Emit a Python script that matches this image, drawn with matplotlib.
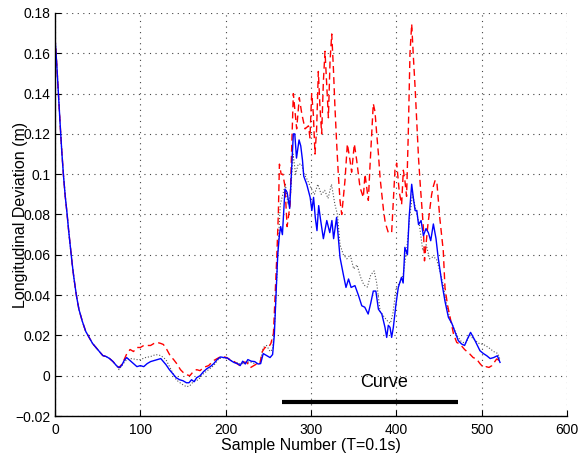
import numpy as np
import matplotlib
matplotlib.use('Agg')
import matplotlib.pyplot as plt

plt.rcParams['font.family'] = ['Liberation Sans', 'DejaVu Sans']

# shared start of all three runs (the initial decay)
decay_x = [0, 2, 4, 6, 8, 10, 12, 14, 16, 18, 20, 22, 25, 28, 32, 36, 40, 44, 48, 52, 56, 60, 64, 68, 72]
decay_y = [0.168, 0.155, 0.140, 0.125, 0.111, 0.099, 0.089, 0.081, 0.072, 0.064, 0.056, 0.049, 0.040,
           0.033, 0.027, 0.022, 0.019, 0.016, 0.014, 0.012, 0.010, 0.0095, 0.0085, 0.007, 0.005]

# blue solid
blue_x = decay_x + [75, 78, 81, 84, 88, 92, 96, 100, 104, 108, 112, 116, 120, 124, 127, 130, 134, 138, 142,
                    146, 150, 154, 157, 160, 163, 166, 170, 174, 178, 182, 186, 190, 194, 198, 202, 206, 210,
                    214, 217, 220, 223, 226, 230, 234, 238, 241, 244, 248, 252, 255, 257, 259, 261, 263, 264.5,
                    266.5, 269.5, 272, 275, 277, 279.3, 281, 283, 286, 288, 290, 291.5, 295, 299, 301, 303, 305,
                    307, 309, 311, 314.5, 318.5, 322, 324.5, 326.5, 330, 334, 338, 341, 344, 347, 351.5, 355.5,
                    359.5, 363, 367, 370, 373, 376, 379, 383, 386.7, 388.7, 390.6, 392.6, 394.5, 396.5, 399.6,
                    402.3, 406, 408, 410, 413, 415, 418, 420, 422, 424, 426, 429, 431.7, 434.8, 437.5, 440.3,
                    443.4, 446.5, 449, 453, 457, 461, 465, 469, 472.6, 476.6, 480, 483, 487, 492, 498, 502, 506,
                    510, 514, 518.4, 521.5]
blue_y = decay_y + [0.004, 0.005, 0.0075, 0.009, 0.0075, 0.006, 0.0045, 0.005, 0.0045, 0.006, 0.007, 0.0075,
                    0.008, 0.0085, 0.007, 0.0055, 0.003, 0.001, -0.001, -0.002, -0.0025, -0.0035, -0.0035, -0.002,
                    -0.003, -0.001, 0.0, 0.002, 0.0035, 0.0045, 0.006, 0.008, 0.0093, 0.009, 0.0088, 0.0075,
                    0.0065, 0.006, 0.005, 0.0072, 0.0058, 0.008, 0.0072, 0.007, 0.0058, 0.006, 0.011, 0.010,
                    0.009, 0.0105, 0.020, 0.040, 0.060, 0.070, 0.074, 0.070, 0.0926, 0.091, 0.083, 0.100, 0.120,
                    0.120, 0.108, 0.117, 0.114, 0.107, 0.099, 0.095, 0.0885, 0.082, 0.0885, 0.0786, 0.072,
                    0.0844, 0.078, 0.068, 0.077, 0.071, 0.077, 0.068, 0.0786, 0.0587, 0.050, 0.0438, 0.048,
                    0.0438, 0.0447, 0.040, 0.0347, 0.034, 0.0306, 0.036, 0.042, 0.042, 0.033, 0.0306, 0.024,
                    0.019, 0.025, 0.024, 0.019, 0.024, 0.0356, 0.0438, 0.0488, 0.046, 0.0637, 0.060, 0.0786,
                    0.095, 0.088, 0.082, 0.082, 0.075, 0.077, 0.0695, 0.073, 0.071, 0.067, 0.0753, 0.068, 0.0587,
                    0.047, 0.037, 0.029, 0.026, 0.0215, 0.0174, 0.0157, 0.015, 0.018, 0.0215, 0.0176, 0.0124,
                    0.011, 0.0099, 0.0085, 0.009, 0.0099, 0.0066]

# red dashed
red_x = decay_x + [75, 79, 84, 88, 92, 96, 100, 104, 108, 112, 116, 120, 124, 127, 131, 135, 139, 143, 147, 150,
                   154, 158, 162, 166, 170, 174, 180, 185.5, 190, 193.4, 197, 201, 205, 209, 213, 217, 221, 225,
                   229, 233, 237, 240, 243, 246, 250, 253, 256, 258, 260, 261.7, 263, 265, 267, 269.5, 272,
                   275.5, 277.5, 279.3, 281.3, 283.2, 286.3, 289.2, 293, 297, 298.8, 300.8, 302.7, 304.7, 306.6,
                   308.6, 310.5, 312.5, 314.5, 316.4, 318.4, 320.4, 322.3, 324.3, 326.2, 328.1, 330, 332, 334,
                   336, 339.8, 342.6, 345.7, 347.6, 350.8, 353.5, 357.4, 361.3, 363.3, 367.2, 369, 373, 375, 377,
                   379, 381, 383, 385, 387, 390.6, 394.5, 398.4, 400.4, 403.5, 406.2, 408.2, 410, 412, 414,
                   415.2, 416, 418, 420, 422, 424, 426, 428, 431.7, 433, 437, 441.4, 443.4, 445.5, 447.5, 451,
                   455, 457, 460, 463, 467, 470.8, 474.6, 480, 486, 490, 494, 498, 502, 505, 508.6, 512, 517.6,
                   521.5]
red_y = decay_y + [0.004, 0.006, 0.0108, 0.013, 0.012, 0.014, 0.014, 0.015, 0.015, 0.015, 0.016, 0.0165, 0.016,
                   0.0155, 0.013, 0.0099, 0.008, 0.0058, 0.003, 0.0017, 0.0005, 0.0, 0.002, 0.003, 0.0025,
                   0.0041, 0.005, 0.0074, 0.0085, 0.0093, 0.0095, 0.009, 0.008, 0.0074, 0.006, 0.005, 0.0068,
                   0.0066, 0.004, 0.005, 0.006, 0.0058, 0.012, 0.014, 0.014, 0.016, 0.021, 0.040, 0.060, 0.080,
                   0.105, 0.100, 0.100, 0.094, 0.074, 0.085, 0.115, 0.140, 0.131, 0.1225, 0.138, 0.130, 0.1225,
                   0.124, 0.118, 0.140, 0.130, 0.110, 0.1225, 0.151, 0.1335, 0.120, 0.146, 0.161, 0.144, 0.128,
                   0.156, 0.1696, 0.153, 0.133, 0.116, 0.100, 0.087, 0.080, 0.0968, 0.115, 0.107, 0.101, 0.115,
                   0.107, 0.0935, 0.0885, 0.100, 0.087, 0.103, 0.135, 0.131, 0.120, 0.110, 0.098, 0.090, 0.082,
                   0.076, 0.071, 0.071, 0.102, 0.1055, 0.091, 0.085, 0.102, 0.097, 0.089, 0.120, 0.143, 0.160,
                   0.1745, 0.158, 0.143, 0.125, 0.108, 0.095, 0.0735, 0.057, 0.075, 0.090, 0.094, 0.097, 0.096,
                   0.078, 0.062, 0.0438, 0.035, 0.029, 0.0207, 0.0165, 0.0157, 0.013, 0.0108, 0.009, 0.0083,
                   0.006, 0.0041, 0.0045, 0.0041, 0.005, 0.0083, 0.0074]

# black dotted
dot_x = decay_x + [75, 80, 84, 90, 96, 100, 106, 112, 118, 124, 130, 136, 142, 148, 154, 158, 162, 168, 174, 180,
                   186, 192, 198, 204, 210, 216, 222, 228, 234, 240, 244, 248, 252, 255, 258, 261, 264, 267, 270,
                   273, 276, 279, 282, 285, 289, 292, 296, 300, 304, 308, 312, 316, 320, 324, 328, 331, 334, 338,
                   342, 346, 350, 354, 358, 362, 366, 370, 374, 377, 381, 386, 390, 393, 396, 400, 404, 408, 412,
                   416, 419, 423, 427, 431, 435, 439, 443, 447, 451, 455, 459, 463, 467, 471, 476, 481, 486, 491,
                   497, 502, 508, 514, 519, 521.5]
dot_y = decay_y + [0.003, 0.006, 0.008, 0.0085, 0.008, 0.008, 0.009, 0.0095, 0.0105, 0.010, 0.008, 0.003, -0.002,
                   -0.004, -0.0055, -0.005, -0.003, -0.002, 0.001, 0.003, 0.005, 0.0085, 0.009, 0.008, 0.007,
                   0.006, 0.006, 0.007, 0.006, 0.006, 0.014, 0.015, 0.012, 0.013, 0.030, 0.060, 0.085, 0.090,
                   0.095, 0.085, 0.090, 0.110, 0.100, 0.105, 0.105, 0.100, 0.097, 0.093, 0.090, 0.095, 0.090,
                   0.092, 0.088, 0.095, 0.085, 0.080, 0.065, 0.060, 0.058, 0.060, 0.053, 0.055, 0.049, 0.045,
                   0.044, 0.050, 0.052, 0.046, 0.032, 0.029, 0.027, 0.026, 0.031, 0.044, 0.046, 0.050, 0.062,
                   0.080, 0.090, 0.082, 0.075, 0.062, 0.065, 0.058, 0.059, 0.058, 0.052, 0.045, 0.035, 0.028,
                   0.024, 0.020, 0.017, 0.016, 0.020, 0.018, 0.016, 0.0155, 0.014, 0.012, 0.011, 0.008]

# curve section marker
curve_start, curve_end, curve_level = 265.6, 472.7, -0.013
curve_label = 'Curve'

yticks = [-0.02, 0, 0.02, 0.04, 0.06, 0.08, 0.1, 0.12, 0.14, 0.16, 0.18]
ytick_labels = ['\u22120.02', '0', '0.02', '0.04', '0.06', '0.08', '0.1', '0.12', '0.14', '0.16', '0.18']
xticks = [0, 100, 200, 300, 400, 500, 600]

fig = plt.figure(figsize=(5.79, 4.57), dpi=100)
ax = fig.add_axes([55/579, 1 - 416/457, 512/579, 403/457])

ax.plot(dot_x, dot_y, ':', color='#555555', lw=0.8)
ax.plot(red_x, red_y, '--', color='red', lw=1.0, dashes=(5, 3))
ax.plot(blue_x, blue_y, '-', color='blue', lw=1.0)

ax.plot([curve_start, curve_end], [curve_level, curve_level], '-', color='black', lw=3, solid_capstyle='butt')
ax.text((curve_start + curve_end) / 2 + 16, -0.0035, curve_label, fontsize=13, ha='center', va='center')

ax.set_xlim(0, 600)
ax.set_ylim(-0.02, 0.18)
ax.set_xticks(xticks)
ax.set_yticks(yticks)
ax.set_yticklabels(ytick_labels)
ax.tick_params(direction='in', labelsize=10, length=4, width=0.8)
ax.tick_params(axis='x', pad=5)
ax.grid(True, linestyle=(0, (1, 4)), color='#444444', lw=0.8)

for s in ['top', 'right']:
    ax.spines[s].set_visible(False)
for s in ['left', 'bottom']:
    ax.spines[s].set_linewidth(1.0)

ax.set_xlabel('Sample Number (T=0.1s)', fontsize=11.5)
ax.set_ylabel('Longitudinal Deviation (m)', fontsize=11.5)
ax.xaxis.set_label_coords(0.5, -0.055)
ax.yaxis.set_label_coords(-0.052, 0.5)

fig.savefig('out.png', dpi=100)
